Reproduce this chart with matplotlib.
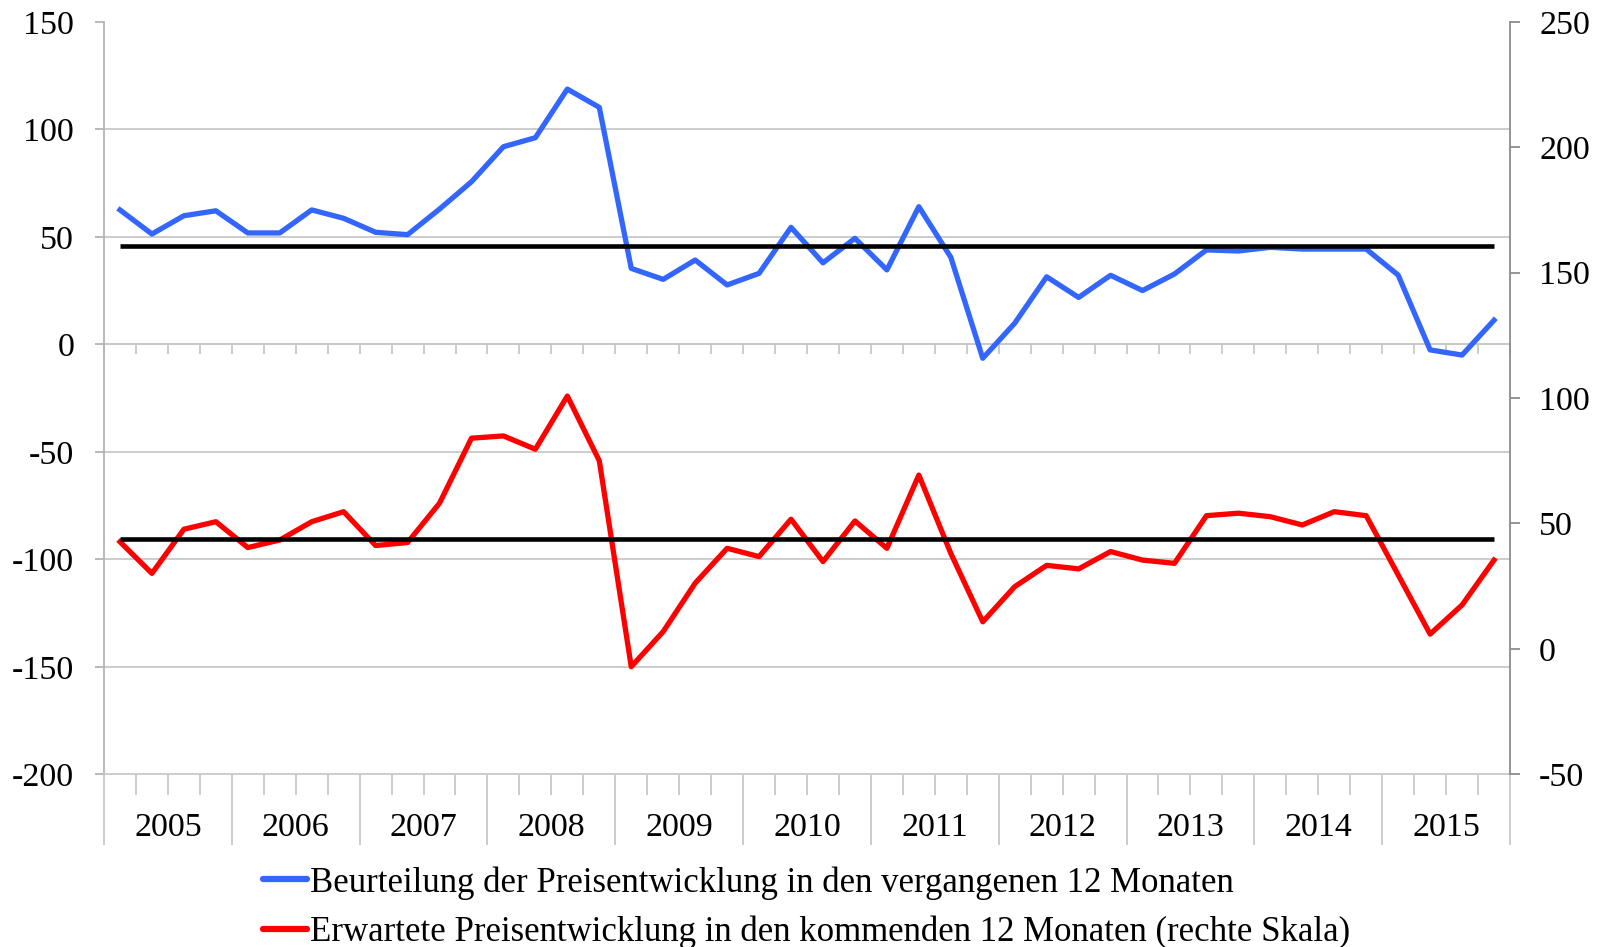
import numpy as np
import matplotlib
matplotlib.use("Agg")
import matplotlib.pyplot as plt
from matplotlib.lines import Line2D

plt.rcParams['font.family'] = ['Liberation Serif', 'DejaVu Serif']

# ---- data (quarterly, 2005 Q1 - 2015 Q4) ----
years = [str(y) for y in range(2005, 2016)]
quarters_per_year = 4

blue_past = [62.5, 51.3, 59.8, 62.1, 51.8, 51.8, 62.5, 58.6,
             52.1, 51.0, 62.9, 75.6, 91.9, 96.1, 118.7, 110.2,
             35.3, 30.2, 39.2, 27.6, 33.0, 54.4, 37.9, 49.3,
             34.6, 64.0, 40.5, -6.5, 9.8, 31.4, 21.8, 32.1,
             25.0, 32.7, 43.9, 43.4, 45.1, 44.3, 44.3, 44.3,
             32.2, -2.6, -5.0, 11.2]
red_expected = [42.7, 30.1, 47.7, 50.7, 40.4, 43.4, 50.7, 54.7,
                41.2, 42.4, 58.1, 84.0, 84.9, 79.6, 100.8, 75.0,
                -7.1, 6.9, 26.2, 40.1, 36.8, 51.7, 34.8, 51.0,
                40.1, 69.3, 38.1, 10.8, 24.8, 33.3, 31.9, 38.8,
                35.4, 34.1, 53.1, 54.1, 52.7, 49.4, 54.7, 53.1,
                29.5, 5.9, 17.5, 35.4]
blue_avg = 45.7
red_avg = 43.7

label_blue = "Beurteilung der Preisentwicklung in den vergangenen 12 Monaten"
label_red = "Erwartete Preisentwicklung in den kommenden 12 Monaten (rechte Skala)"

left_ticks = list(range(-200, 151, 50))
right_ticks = list(range(-50, 251, 50))

# ---- styles ----
BLUE = '#3366FF'
RED = '#FF0000'
GRID = '#C8C8C8'
SPINE = '#B4B4B4'
FS = 24.5
FS_LEG = 25

W, H = 1606, 947
fig = plt.figure(figsize=(W / 100, H / 100), dpi=100)
L, R, T, B = 104, 1510, 21.8, 774.3
ax = fig.add_axes([L / W, 1 - B / H, (R - L) / W, (B - T) / H])

n = len(blue_past)
x = np.arange(n)

ax.set_xlim(-0.5, n - 0.5)
ax.set_ylim(left_ticks[0], left_ticks[-1])
ax.set_yticks(left_ticks)
ax.set_yticklabels([str(v) for v in left_ticks])

ax.plot(x, blue_past, color=BLUE, lw=3.8, zorder=3, solid_joinstyle='round')
ax.hlines(blue_avg, x[0], x[-1], color='black', lw=3.3, zorder=4)

ax.yaxis.grid(True, color=GRID, lw=1.3)
ax.set_axisbelow(True)
for gl, v in zip(ax.get_ygridlines(), left_ticks):
    if v == left_ticks[-1] or v == left_ticks[0]:
        gl.set_visible(False)

for s in ['top', 'right']:
    ax.spines[s].set_visible(False)
ax.spines['left'].set_color(SPINE)
ax.spines['bottom'].set_color(GRID)
ax.spines['left'].set_linewidth(1.3)
ax.spines['bottom'].set_linewidth(1.3)

ax.tick_params(axis='y', direction='out', length=6.5, width=1.3, color=SPINE,
               labelsize=FS, pad=15.0)

# category axis: year separators (major) and quarter ticks (minor)
year_bounds = np.arange(-0.5, n, quarters_per_year)
quarter_bounds = np.arange(-0.5, n, 1)
ax.set_xticks(year_bounds)
ax.set_xticklabels([])
ax.set_xticks(quarter_bounds, minor=True)
ax.tick_params(axis='x', which='major', direction='out', length=51, width=1.3, color=GRID)
ax.tick_params(axis='x', which='minor', direction='out', length=15, width=1.3, color=GRID)

# year labels
sec = ax.secondary_xaxis('bottom')
year_centers = np.arange(len(years)) * quarters_per_year + (quarters_per_year - 1) / 2
sec.set_xticks(year_centers)
sec.set_xticklabels(years)
sec.tick_params(axis='x', length=0, labelsize=FS, pad=27.5)
for s in sec.spines.values():
    s.set_visible(False)

# quarter ticks along the zero line (pointing down)
zero_loc = (0 - left_ticks[0]) / (left_ticks[-1] - left_ticks[0])
sec0 = ax.secondary_xaxis(zero_loc)
sec0.set_xticks(quarter_bounds)
sec0.set_xticklabels([])
sec0.tick_params(axis='x', which='both', direction='in', length=7.2, width=1.3,
                 color=GRID, top=True, bottom=False)
for s in sec0.spines.values():
    s.set_color(GRID)
    s.set_linewidth(1.3)
sec0.set_zorder(1)

# right axis
ax2 = ax.twinx()
ax2.set_ylim(right_ticks[0], right_ticks[-1])
ax2.set_yticks(right_ticks)
ax2.set_yticklabels([str(v) for v in right_ticks])
ax2.plot(x, red_expected, color=RED, lw=3.8, zorder=3, solid_joinstyle='round')
ax2.hlines(red_avg, x[0], x[-1], color='black', lw=3.3, zorder=4)
for s in ['top', 'left', 'bottom']:
    ax2.spines[s].set_visible(False)
ax2.spines['right'].set_color('#8C8C8C')
ax2.spines['right'].set_linewidth(1.3)
ax2.tick_params(axis='y', direction='out', length=7, width=1.3, color='#8C8C8C',
                labelsize=FS, pad=14.0)

# legend
handles = [Line2D([], [], color=BLUE, lw=4.5, solid_capstyle='round'),
           Line2D([], [], color=RED, lw=4.5, solid_capstyle='round')]
fig.legend(handles, [label_blue, label_red], loc='upper left',
           bbox_to_anchor=(263 / W, 1 - 866 / H), frameon=False, fontsize=FS_LEG,
           handlelength=1.28, handletextpad=0.08, labelspacing=0.47,
           borderpad=0, borderaxespad=0)

fig.savefig('out.png', dpi=100)
